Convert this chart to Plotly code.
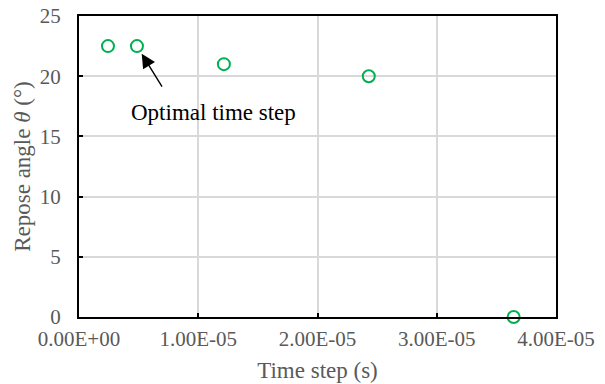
import plotly.graph_objects as go

time_step = [2.43e-6, 4.86e-6, 1.215e-5, 2.43e-5, 3.645e-5]
repose_angle = [22.5, 22.5, 21.0, 20.0, 0.0]

x_tickvals = [0, 1e-5, 2e-5, 3e-5, 4e-5]
x_ticktext = ["0.00E+00", "1.00E-05", "2.00E-05", "3.00E-05", "4.00E-05"]
y_tickvals = [0, 5, 10, 15, 20, 25]

font_family = "Liberation Serif"
gray = "#595959"

fig = go.Figure()
fig.add_trace(go.Scatter(
    x=time_step, y=repose_angle, mode="markers",
    marker=dict(symbol="circle-open", size=12, color="#00B050",
                line=dict(width=2, color="#00B050")),
    showlegend=False, cliponaxis=False,
))

fig.add_annotation(
    x=time_step[1], y=repose_angle[1],
    ax=26, ay=42, axref="pixel", ayref="pixel",
    text="", showarrow=True, arrowhead=2, arrowsize=2, arrowwidth=1.4,
    arrowcolor="black", standoff=9,
)
fig.add_annotation(
    x=(213 - 79) / 477, y=(317 - 112) / 301, xref="paper", yref="paper",
    xanchor="center", yanchor="middle",
    text="Optimal time step", showarrow=False,
    font=dict(family=font_family, size=23, color="black"),
)

fig.update_layout(
    width=605, height=384,
    margin=dict(l=79, r=49, t=16, b=67),
    paper_bgcolor="white", plot_bgcolor="white",
    font=dict(family=font_family, size=21, color=gray),
    xaxis=dict(
        range=[0, 4e-5], tickvals=x_tickvals, ticktext=x_ticktext,
        showgrid=True, gridcolor="#d9d9d9", gridwidth=1.5,
        showline=True, linecolor="black", linewidth=2, mirror=True,
        ticks="inside", ticklen=4, tickcolor="black", tickwidth=2,
        tickfont=dict(family=font_family, size=21, color=gray), zeroline=False,
        ticklabelstandoff=2, automargin=False,
        title=dict(text="Time step (s)", font=dict(family=font_family, size=23, color=gray), standoff=12),
    ),
    yaxis=dict(
        range=[0, 25], tickvals=y_tickvals,
        showgrid=True, gridcolor="#d9d9d9", gridwidth=1.5,
        showline=True, linecolor="black", linewidth=2, mirror=True,
        ticks="inside", ticklen=4, tickcolor="black", tickwidth=2,
        tickfont=dict(family=font_family, size=21, color=gray), zeroline=False,
        ticklabelstandoff=12, automargin=False,
        title=dict(text="Repose angle <i>θ</i> (°)", font=dict(family=font_family, size=23, color=gray), standoff=3),
    ),
)
fig.write_html("out.html")
